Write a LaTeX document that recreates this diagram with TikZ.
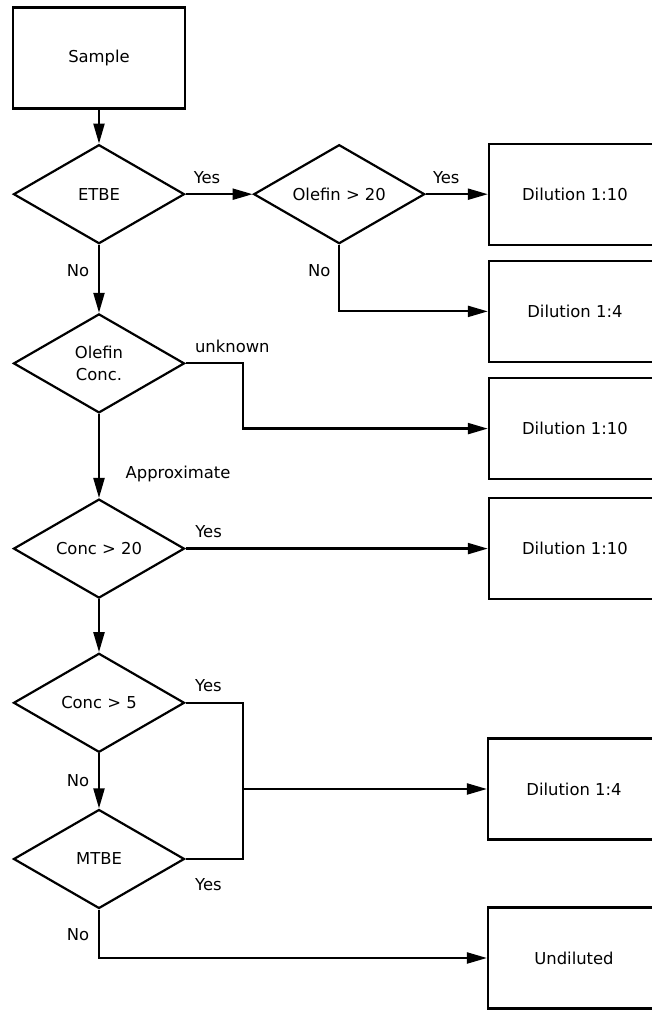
\documentclass[tikz,border=0pt]{standalone}
\usepackage{fontspec}
\setmainfont{DejaVu Sans}
\usetikzlibrary{arrows.meta,positioning,shapes.geometric}
\tikzset{
  >={Triangle[length=20pt,width=11pt]},
  txt/.style   ={font=\fontsize{16.4}{22}\selectfont},
  box/.style   ={draw,line width=2.2pt,minimum width=172pt,minimum height=101pt,
                 inner sep=0pt,txt},
  dec/.style   ={diamond,draw,line width=2.2pt,aspect=1.73,minimum width=171pt,
                 minimum height=99pt,inner sep=0pt,align=center,txt},
  ln/.style    ={line width=2.2pt},
  ar/.style    ={->,ln},
  lbl/.style   ={txt,inner sep=0pt,anchor=base},
}
\begin{document}
\begin{tikzpicture}[x=1pt,y=1pt]
\useasboundingbox (0,0) rectangle (652,1010);
% decision column
\node[box] (S) at (99,952) {Sample};
\node[dec,below=34pt of S] (E) {ETBE};
\node[dec,right=67pt of E] (O) {Olefin > 20};
\node[dec,below=68pt of E] (OC) {Olefin\\Conc.};
\node[dec,below=84pt of OC] (C20) {Conc > 20};
\node[dec,below=53pt of C20] (C5) {Conc > 5};
\node[dec,below=55pt of C5] (M) {MTBE};
% outcomes
\node[box,right=62pt of O] (D1) {Dilution 1:10};
\node[box,below=14pt of D1] (D2) {Dilution 1:4};
\node[box,below=14pt of D2] (D3) {Dilution 1:10};
\node[box] (D4) at (D1 |- C20) {Dilution 1:10};
\node[box] (D5) at (574,221) {Dilution 1:4};
\node[box] (U) at (574,52) {Undiluted};

\draw[ar] (S) -- (E);
\draw[ar] (E) -- node[lbl,pos=.32,yshift=11pt] (y1) {Yes} (O);
\draw[ar] (E) -- node[lbl,pos=.46,xshift=-21pt] (n1) {No} (OC);
\draw[ar] (O) -- node[lbl,pos=.33,yshift=11pt] (y2) {Yes} (D1);
\draw[ar] (O) |- node[lbl,pos=.24,xshift=-20pt] (n2) {No} (D2);
\draw[ar] (OC.east) -- node[lbl,pos=.82,yshift=11pt] (u1) {unknown} ++(57,0) |- (D3);
\draw[ar] (OC) -- node[lbl,pos=.77,xshift=79pt] (a1) {Approximate} (C20);
\draw[ar] (C20) -- node[lbl,pos=.076,yshift=11pt] (y3) {Yes} (D4);
\draw[ar] (C20) -- (C5);
\draw[ln] (C5.east) -- node[lbl,pos=.4,yshift=11pt] (y4) {Yes} ++(57,0) coordinate (k)
          |- node[lbl,pos=.8,yshift=-32pt] (y5) {Yes} (M.east);
\draw[ar] (k |- D5.west) -- (D5);
\draw[ar] (C5) -- node[lbl,pos=.6,xshift=-21pt] (n3) {No} (M);
\draw[ar] (M) |- node[lbl,pos=.32,xshift=-21pt] (n4) {No} (U);
\end{tikzpicture}
\end{document}
